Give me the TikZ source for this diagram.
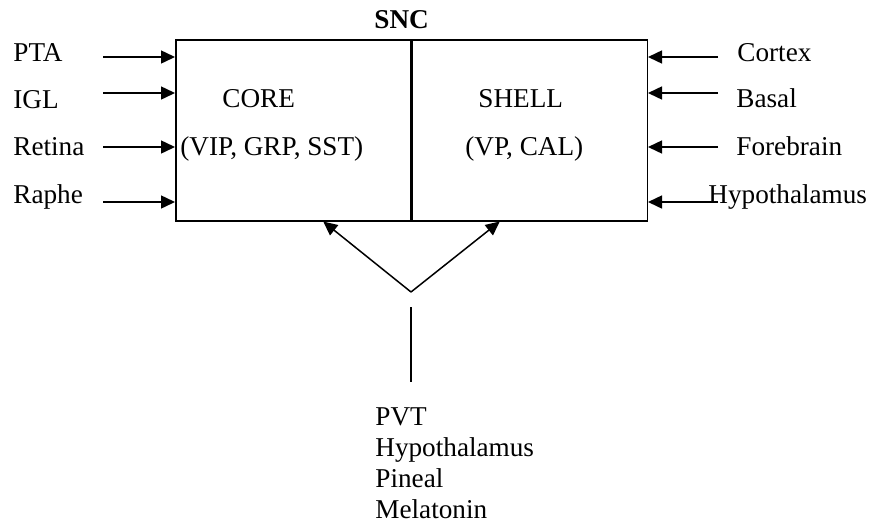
\documentclass[tikz,border=0pt]{standalone}
\usepackage{fontspec}
\setmainfont{Liberation Serif}
\usetikzlibrary{arrows.meta, positioning, calc}

\begin{document}
\begin{tikzpicture}[
  x=0.5pt, y=-0.5pt,
  every node/.style={font=\fontsize{13.6}{15.5}\selectfont, inner sep=0pt},
  half/.style={draw, line width=0.75pt, minimum width=117.5pt,
               minimum height=90.5pt, anchor=north west},
  lab/.style={anchor=base west},
  arrow/.style={-{Triangle[length=7pt, width=6.5pt]}, line width=0.75pt},
  link/.style={line width=0.75pt},
]
\useasboundingbox (0,0) rectangle (871,525);

%% the nucleus
\node[half] (core) at (175,39) {};
\node[half] (shell) at (core.north east) {};
\node[lab, font=\fontsize{13.6}{15.5}\selectfont\bfseries] (snc) at (374,28) {SNC};

\node[lab] (coreT)  at (222,107) {CORE};
\node[lab] (coreP)  at (180,155) {(VIP, GRP, SST)};
\node[lab] (shellT) at (478,107) {SHELL};
\node[lab] (shellP) at (465,155) {(VP, CAL)};

%% inputs on the left
\foreach \txt/\ty/\ay [count=\i] in {PTA/61/57, IGL/108/93, Retina/155/147, Raphe/203/202} {
  \node[lab] (in\i) at (13,\ty) {\txt};
  \coordinate (ins\i) at (103,\ay);
  \draw[arrow] (ins\i) -- (ins\i -| core.west);
}

%% inputs on the right
\foreach \txt/\tx/\ty/\ay [count=\i] in {Cortex/737/61/57, Basal/736/107/93,
    Forebrain/736/155/147, Hypothalamus/708/203/202} {
  \node[lab] (out\i) at (\tx,\ty) {\txt};
  \coordinate (outs\i) at (718,\ay);
  \draw[arrow] (outs\i) -- (outs\i -| shell.east);
}

%% inputs from below
\coordinate (apex) at (411,292);
\draw[arrow] (apex) -- ($(core.south)+(30,0)$);
\draw[arrow] (apex) -- ($(shell.south)-(30,0)$);

\coordinate (stemT) at (411,307);
\coordinate (stemB) at (411,382);
\draw[link] (stemT) -- (stemB);

\foreach \txt [count=\i] in {PVT, Hypothalamus, Pineal, Melatonin} {
  \node[lab] (src\i) at (375,{425+31*(\i-1)}) {\txt};
}

\end{tikzpicture}
\end{document}
